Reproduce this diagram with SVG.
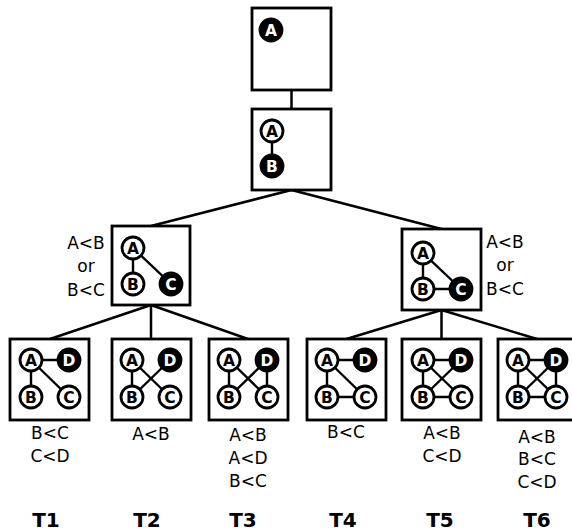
<svg xmlns="http://www.w3.org/2000/svg" width="572" height="532" viewBox="0 0 572 532">
  <style>
    .box { fill: #fff; stroke: #000; stroke-width: 2.8; }
    .link { stroke: #000; stroke-width: 2.5; fill: none; }
    .edge { stroke: #000; stroke-width: 2.4; }
    .vw { fill: #fff; stroke: #000; stroke-width: 2.8; }
    .vb { fill: #000; stroke: #000; stroke-width: 2.8; }
    .lw { font-family: "DejaVu Sans", sans-serif; font-weight: bold; font-size: 15.5px; fill: #000; text-anchor: middle; }
    .lb { font-family: "DejaVu Sans", sans-serif; font-weight: bold; font-size: 15.5px; fill: #fff; text-anchor: middle; }
    .cond { font-family: "DejaVu Sans", sans-serif; font-size: 17px; fill: #000; text-anchor: middle; }
    .title { font-family: "DejaVu Sans", sans-serif; font-weight: bold; font-size: 20px; fill: #000; text-anchor: middle; }
  </style>

  <!-- tree connectors -->
  <g id="connectors">
    <line class="link" x1="291.5" y1="90" x2="291.5" y2="109"/>
    <line class="link" x1="291.5" y1="190" x2="151" y2="226"/>
    <line class="link" x1="291.5" y1="190" x2="441.5" y2="229"/>
    <line class="link" x1="151" y1="305" x2="50" y2="339"/>
    <line class="link" x1="151" y1="305" x2="151" y2="339"/>
    <line class="link" x1="151" y1="305" x2="248" y2="339"/>
    <line class="link" x1="441.5" y1="310" x2="346.5" y2="339"/>
    <line class="link" x1="441.5" y1="310" x2="441.5" y2="339"/>
    <line class="link" x1="441.5" y1="310" x2="537" y2="339"/>
  </g>

  <!-- root: single vertex A -->
  <g id="root">
    <rect class="box" x="252" y="8" width="79" height="82"/>
    <circle class="vb" cx="271" cy="30" r="11"/>
    <text class="lb" x="271" y="35.6">A</text>
  </g>

  <!-- A-B -->
  <g id="ab">
    <rect class="box" x="252" y="109" width="79" height="81"/>
    <line class="edge" x1="272" y1="131" x2="272" y2="166"/>
    <circle class="vw" cx="272" cy="131" r="11"/>
    <text class="lw" x="272" y="136.6">A</text>
    <circle class="vb" cx="272" cy="166" r="11"/>
    <text class="lb" x="272" y="171.6">B</text>
  </g>

  <!-- A-B, A-C -->
  <g id="abc1">
    <rect class="box" x="112" y="226" width="78" height="79"/>
    <line class="edge" x1="133" y1="248" x2="133" y2="284"/>
    <line class="edge" x1="133" y1="248" x2="171" y2="284"/>
    <circle class="vw" cx="133" cy="248" r="11"/>
    <text class="lw" x="133" y="253.6">A</text>
    <circle class="vw" cx="133" cy="284" r="11"/>
    <text class="lw" x="133" y="289.6">B</text>
    <circle class="vb" cx="171" cy="284" r="11"/>
    <text class="lb" x="171" y="289.6">C</text>
    <text class="cond" x="86" y="249">A&lt;B</text>
    <text class="cond" x="86" y="272">or</text>
    <text class="cond" x="86" y="296">B&lt;C</text>
  </g>

  <!-- A-B, B-C, A-C -->
  <g id="abc2">
    <rect class="box" x="402" y="229" width="79" height="81"/>
    <line class="edge" x1="423" y1="253" x2="423" y2="289"/>
    <line class="edge" x1="423" y1="289" x2="461" y2="289"/>
    <line class="edge" x1="423" y1="253" x2="461" y2="289"/>
    <circle class="vw" cx="423" cy="253" r="11"/>
    <text class="lw" x="423" y="258.6">A</text>
    <circle class="vw" cx="423" cy="289" r="11"/>
    <text class="lw" x="423" y="294.6">B</text>
    <circle class="vb" cx="461" cy="289" r="11"/>
    <text class="lb" x="461" y="294.6">C</text>
    <text class="cond" x="505" y="248">A&lt;B</text>
    <text class="cond" x="505" y="271">or</text>
    <text class="cond" x="505" y="295">B&lt;C</text>
  </g>

  <!-- T1 -->
  <g id="t1">
    <rect class="box" x="10" y="339" width="79" height="81"/>
    <line class="edge" x1="31" y1="360" x2="69" y2="360"/>
    <line class="edge" x1="31" y1="360" x2="31" y2="397"/>
    <line class="edge" x1="31" y1="360" x2="69" y2="397"/>
    <circle class="vw" cx="31" cy="360" r="11"/><text class="lw" x="31" y="365.6">A</text>
    <circle class="vb" cx="69" cy="360" r="11"/><text class="lb" x="69" y="365.6">D</text>
    <circle class="vw" cx="31" cy="397" r="11"/><text class="lw" x="31" y="402.6">B</text>
    <circle class="vw" cx="69" cy="397" r="11"/><text class="lw" x="69" y="402.6">C</text>
    <text class="cond" x="50" y="439">B&lt;C</text>
    <text class="cond" x="50" y="462">C&lt;D</text>
    <text class="title" x="46" y="527">T1</text>
  </g>

  <!-- T2 -->
  <g id="t2">
    <rect class="box" x="112" y="339" width="79" height="81"/>
    <line class="edge" x1="132" y1="360" x2="132" y2="397"/>
    <line class="edge" x1="132" y1="360" x2="170" y2="397"/>
    <line class="edge" x1="132" y1="397" x2="170" y2="360"/>
    <circle class="vw" cx="132" cy="360" r="11"/><text class="lw" x="132" y="365.6">A</text>
    <circle class="vb" cx="170" cy="360" r="11"/><text class="lb" x="170" y="365.6">D</text>
    <circle class="vw" cx="132" cy="397" r="11"/><text class="lw" x="132" y="402.6">B</text>
    <circle class="vw" cx="170" cy="397" r="11"/><text class="lw" x="170" y="402.6">C</text>
    <text class="cond" x="151" y="440">A&lt;B</text>
    <text class="title" x="147" y="527">T2</text>
  </g>

  <!-- T3 -->
  <g id="t3">
    <rect class="box" x="209" y="339" width="79" height="81"/>
    <line class="edge" x1="229" y1="360" x2="229" y2="397"/>
    <line class="edge" x1="267" y1="360" x2="267" y2="397"/>
    <line class="edge" x1="229" y1="360" x2="267" y2="397"/>
    <line class="edge" x1="229" y1="397" x2="267" y2="360"/>
    <circle class="vw" cx="229" cy="360" r="11"/><text class="lw" x="229" y="365.6">A</text>
    <circle class="vb" cx="267" cy="360" r="11"/><text class="lb" x="267" y="365.6">D</text>
    <circle class="vw" cx="229" cy="397" r="11"/><text class="lw" x="229" y="402.6">B</text>
    <circle class="vw" cx="267" cy="397" r="11"/><text class="lw" x="267" y="402.6">C</text>
    <text class="cond" x="248" y="441">A&lt;B</text>
    <text class="cond" x="248" y="464">A&lt;D</text>
    <text class="cond" x="248" y="487">B&lt;C</text>
    <text class="title" x="243" y="527">T3</text>
  </g>

  <!-- T4 -->
  <g id="t4">
    <rect class="box" x="307" y="339" width="79" height="81"/>
    <line class="edge" x1="327" y1="360" x2="365" y2="360"/>
    <line class="edge" x1="327" y1="360" x2="327" y2="397"/>
    <line class="edge" x1="327" y1="360" x2="365" y2="397"/>
    <line class="edge" x1="327" y1="397" x2="365" y2="397"/>
    <circle class="vw" cx="327" cy="360" r="11"/><text class="lw" x="327" y="365.6">A</text>
    <circle class="vb" cx="365" cy="360" r="11"/><text class="lb" x="365" y="365.6">D</text>
    <circle class="vw" cx="327" cy="397" r="11"/><text class="lw" x="327" y="402.6">B</text>
    <circle class="vw" cx="365" cy="397" r="11"/><text class="lw" x="365" y="402.6">C</text>
    <text class="cond" x="346" y="438">B&lt;C</text>
    <text class="title" x="343" y="527">T4</text>
  </g>

  <!-- T5 -->
  <g id="t5">
    <rect class="box" x="402" y="339" width="79" height="81"/>
    <line class="edge" x1="423" y1="360" x2="461" y2="360"/>
    <line class="edge" x1="423" y1="360" x2="423" y2="397"/>
    <line class="edge" x1="423" y1="397" x2="461" y2="397"/>
    <line class="edge" x1="423" y1="360" x2="461" y2="397"/>
    <line class="edge" x1="423" y1="397" x2="461" y2="360"/>
    <circle class="vw" cx="423" cy="360" r="11"/><text class="lw" x="423" y="365.6">A</text>
    <circle class="vb" cx="461" cy="360" r="11"/><text class="lb" x="461" y="365.6">D</text>
    <circle class="vw" cx="423" cy="397" r="11"/><text class="lw" x="423" y="402.6">B</text>
    <circle class="vw" cx="461" cy="397" r="11"/><text class="lw" x="461" y="402.6">C</text>
    <text class="cond" x="442" y="439">A&lt;B</text>
    <text class="cond" x="442" y="462">C&lt;D</text>
    <text class="title" x="440" y="527">T5</text>
  </g>

  <!-- T6 -->
  <g id="t6">
    <rect class="box" x="498" y="339" width="79" height="81"/>
    <line class="edge" x1="518" y1="360" x2="556" y2="360"/>
    <line class="edge" x1="518" y1="360" x2="518" y2="397"/>
    <line class="edge" x1="556" y1="360" x2="556" y2="397"/>
    <line class="edge" x1="518" y1="397" x2="556" y2="397"/>
    <line class="edge" x1="518" y1="360" x2="556" y2="397"/>
    <line class="edge" x1="518" y1="397" x2="556" y2="360"/>
    <circle class="vw" cx="518" cy="360" r="11"/><text class="lw" x="518" y="365.6">A</text>
    <circle class="vb" cx="556" cy="360" r="11"/><text class="lb" x="556" y="365.6">D</text>
    <circle class="vw" cx="518" cy="397" r="11"/><text class="lw" x="518" y="402.6">B</text>
    <circle class="vw" cx="556" cy="397" r="11"/><text class="lw" x="556" y="402.6">C</text>
    <text class="cond" x="537" y="443">A&lt;B</text>
    <text class="cond" x="537" y="465">B&lt;C</text>
    <text class="cond" x="537" y="488">C&lt;D</text>
    <text class="title" x="537" y="527">T6</text>
  </g>
</svg>
